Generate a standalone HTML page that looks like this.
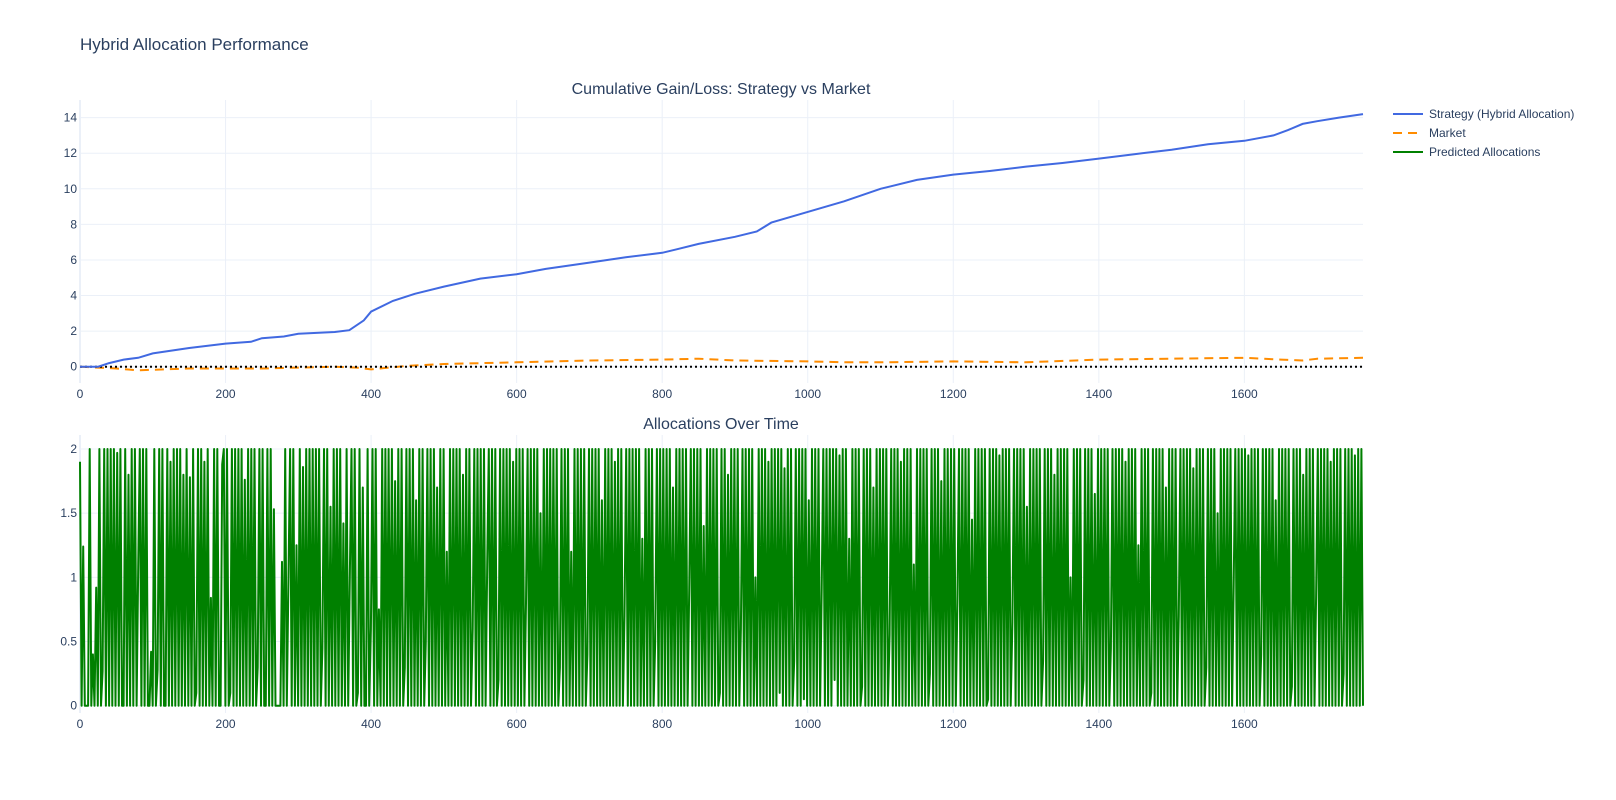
<!DOCTYPE html>
<html><head><meta charset="utf-8"><style>
body{margin:0;background:#fff;}
svg{display:block;font-family:"Liberation Sans",Arial,sans-serif;}
</style></head><body>
<svg id="chart" width="1616" height="800" viewBox="0 0 1616 800" xmlns="http://www.w3.org/2000/svg">
<text x="80" y="50" font-size="17" fill="#2a3f5f">Hybrid Allocation Performance</text>
<text x="721" y="94" font-size="16" fill="#2a3f5f" text-anchor="middle">Cumulative Gain/Loss: Strategy vs Market</text>
<text x="721" y="429" font-size="16" fill="#2a3f5f" text-anchor="middle">Allocations Over Time</text>
<g id="topPlot"></g>
<g id="botPlot"></g>
<g font-size="12" fill="#2a3f5f">
<g><line x1="1393" y1="114" x2="1423" y2="114" stroke="#4169e1" stroke-width="2"/><text x="1429" y="118">Strategy (Hybrid Allocation)</text></g>
<g><line x1="1393" y1="133" x2="1423" y2="133" stroke="#ff8c00" stroke-width="2" stroke-dasharray="9,6"/><text x="1429" y="137">Market</text></g>
<g><line x1="1393" y1="152" x2="1423" y2="152" stroke="#008000" stroke-width="2"/><text x="1429" y="156">Predicted Allocations</text></g>
</g>
</svg>
<script>
const xTicks=[0,200,400,600,800,1000,1200,1400,1600];
const topYTicks=[0,2,4,6,8,10,12,14];
const botYTicks=[0,0.5,1,1.5,2];
const strategyX=[0,25,40,60,80,100,150,200,235,250,280,300,350,370,390,400,430,460,500,550,600,640,700,750,800,820,850,900,930,950,1000,1050,1100,1150,1200,1250,1300,1350,1400,1450,1500,1550,1600,1640,1660,1680,1700,1730,1763];
const strategyY=[0,0,0.2,0.4,0.5,0.75,1.05,1.3,1.4,1.6,1.7,1.85,1.95,2.05,2.6,3.1,3.7,4.1,4.5,4.95,5.2,5.5,5.85,6.15,6.4,6.6,6.9,7.3,7.6,8.1,8.7,9.3,10.0,10.5,10.8,11.0,11.25,11.45,11.7,11.95,12.2,12.5,12.7,13.0,13.3,13.65,13.8,14.0,14.2];
const marketX=[0,50,80,150,250,350,380,400,450,500,600,700,800,850,900,1000,1050,1100,1200,1300,1400,1500,1600,1650,1680,1700,1763];
const marketY=[0,-0.1,-0.2,-0.1,-0.1,0,-0.05,-0.15,0.05,0.15,0.25,0.35,0.4,0.45,0.35,0.3,0.25,0.25,0.3,0.25,0.4,0.45,0.5,0.4,0.35,0.45,0.5];
const allocMaxX=1763;
const allocations=[1.9,0,1.24,0,0,0,2,0,0.4,0,0.92,0,2,0,0.27,2,0,2,0,2,0,2,0,1.97,0,2,0,0,2,0,1.8,0,2,0,2,0,1.08,2,0,2,0,2,0,0,0.42,0,2,0,0.28,2,0,2,0,0,2,0,1.9,0,2,0,2,0,2,0,1.8,0,2,0,1.78,0,2,0,0.1,2,0,2,0,1.9,0,2,0,0.84,0,2,0,2,0,0,1.88,2,0,2,0,0.1,2,0,2,0,2,0,2,0,1.76,0,2,0,2,0,2,0,0.3,2,0,2,0,0,2,0,2,0,1.53,0,0,0,0,1.12,0,2,0,0.95,2,0,2,0,1.25,0,2,0,1.86,0,2,0,2,0,2,0,2,0,2,0,0.45,2,0,2,0,1.55,0,2,0,2,0,2,0,1.42,0,2,0,1.05,2,0,2,0,0.1,2,0,1.7,0,0,2,0,0.6,2,0,2,0,0.75,0,2,0,2,0,2,0,2,0,1.75,0,2,0,2,0,0.3,2,0,2,0,2,0,1.6,0,2,0,2,0,0.5,2,0,2,0,2,0,1.7,0,2,0,2,0,1.2,0,2,0,2,0,2,0,2,0,1.8,0,2,0,2,0,0.6,2,0,2,0,2,0,2,0,1.1,2,0,2,0,2,0,0.2,2,0,2,0,2,0,2,0,1.9,0,2,0,2,0,2,0,0.8,2,0,2,0,2,0,2,0,1.5,0,2,0,2,0,2,0,2,0,2,0,0.3,2,0,2,0,2,0,1.2,0,2,0,2,0,2,0,2,0,0.4,2,0,2,0,2,0,2,0,1.6,0,2,0,2,0,2,0,1.9,0,2,0,2,0,0.7,2,0,2,0,2,0,2,0,2,0,1.3,0,2,0,2,0,2,0,0.5,2,0,2,0,2,0,2,0,2,0,1.7,0,2,0,2,0,2,0,2,0,0.9,2,0,2,0,2,0,2,0,1.4,0,2,0,2,0,2,0,2,0,0.1,2,0,2,0,1.8,0,2,0,2,0,2,0,0.6,2,0,2,0,2,0,2,0,1.0,0,2,0,2,0,2,0,1.9,0,2,0,
2,0,2,0.1,2,0,1.85,0,2,0,2,0,0.35,2,0,2,0,2,0.05,2,0,1.6,0,2,0,2,0,2,0,0.9,2,0,2,0,2,0,2,0.2,2,0,1.95,0,2,0,2,0,1.3,0,2,0,2,0,2,0,0.15,2,0,2,0,2,0,1.7,0,2,0,2,0,2,0,2,0,0.55,2,0,2,0,2,0,1.9,0,2,0,2,0,2,0,1.1,0,2,0,2,0,2,0,2,0,0.25,2,0,2,0,2,0,1.75,0,2,0,2,0,2,0,2,0,0.8,2,0,2,0,2,0,2,0,1.45,0,2,0,2,0,2,0,2,0,0.05,2,0,2,0,2,0,1.95,0,2,0,2,0,2,0,0.65,2,0,2,0,2,0,2,0,1.55,0,2,0,2,0,2,0,2,0,0.35,2,0,2,0,2,0,1.8,0,2,0,2,0,2,0,2,0,1.0,0,2,0,2,0,2,0,0.2,2,0,2,0,2,0,1.65,0,2,0,2,0,2,0,2,0,0.45,2,0,2,0,2,0,2,0,1.9,0,2,0,2,0,2,0,1.25,0,2,0,2,0,2,0,0.1,2,0,2,0,2,0,2,0,1.7,0,2,0,2,0,2,0,0.7,2,0,2,0,2,0,2,0,1.85,0,2,0,2,0,2,0,0.3,2,0,2,0,2,0,1.5,0,2,0,2,0,2,0,2,0,0.95,2,0,2,0,2,0,2,0,1.95,0,2,0,2,0,2,0,0.4,2,0,2,0,2,0,2,0,1.6,0,2,0,2,0,2,0,2,0,0.15,2,0,2,0,2,0,1.8,0,2,0,2,0,2,0,0.85,2,0,2,0,2,0,2,0,1.9,0,2,0,2,0,2,0,0.25,2,0,2,0,2,0,1.95,0,2,0,2,0];
{
const NS='http://www.w3.org/2000/svg';
const L=80,R=1363;
const xs=v=>L+v*(R-L)/1763;
const topT=100,topB=383,botT=435,botB=713;
const ty=v=>366.7-v*17.79;
const by=v=>705.7-v*128.35;
function mk(p,tag,attrs){const e=document.createElementNS(NS,tag);for(const k in attrs)e.setAttribute(k,attrs[k]);p.appendChild(e);return e;}
function axes(g,yT,yf,t0,b0,pref){
  xTicks.forEach(t=>{const l=mk(g,'line',{x1:xs(t),x2:xs(t),y1:t0,y2:b0,stroke:'#ebf0f8','stroke-width':t===0?2:1});
    
    
    const tx=mk(g,'text',{x:xs(t),y:b0+15,'font-size':12,fill:'#2a3f5f','text-anchor':'middle'});tx.textContent=t;
    
    });
  yT.forEach(t=>{const l=mk(g,'line',{x1:L,x2:R,y1:yf(t),y2:yf(t),stroke:'#ebf0f8','stroke-width':1});
    
    
    const tx=mk(g,'text',{x:L-3,y:yf(t)+4,'font-size':12,fill:'#2a3f5f','text-anchor':'end'});tx.textContent=t;
    
    });
}
const gTop=document.getElementById('topPlot'),gBot=document.getElementById('botPlot');
axes(gTop,topYTicks,ty,topT,topB,'top');
axes(gBot,botYTicks,by,botT,botB,'bottom');
function path(g,X,Y,yf,attrs,name){const d=X.map((x,i)=>(i?'L':'M')+xs(x).toFixed(1)+','+yf(Y[i]).toFixed(1)).join('');
  const p=mk(g,'path',Object.assign({d:d,fill:'none'},attrs));
  
  return p;}
path(gTop,marketX,marketY,ty,{stroke:'#ff8c00','stroke-width':2,'stroke-dasharray':'9,6'},'market-line');
const zl=mk(gTop,'line',{x1:L,x2:R,y1:ty(0),y2:ty(0),stroke:'#000','stroke-width':2,'stroke-dasharray':'2,3'});


path(gTop,strategyX,strategyY,ty,{stroke:'#4169e1','stroke-width':2},'strategy-line');
const step=allocMaxX/(allocations.length-1);
const ax=allocations.map((v,i)=>i*step);
path(gBot,ax,allocations,by,{stroke:'#008000','stroke-width':2,'stroke-linejoin':'round'},'allocations-line');
}
</script>
</body></html>
